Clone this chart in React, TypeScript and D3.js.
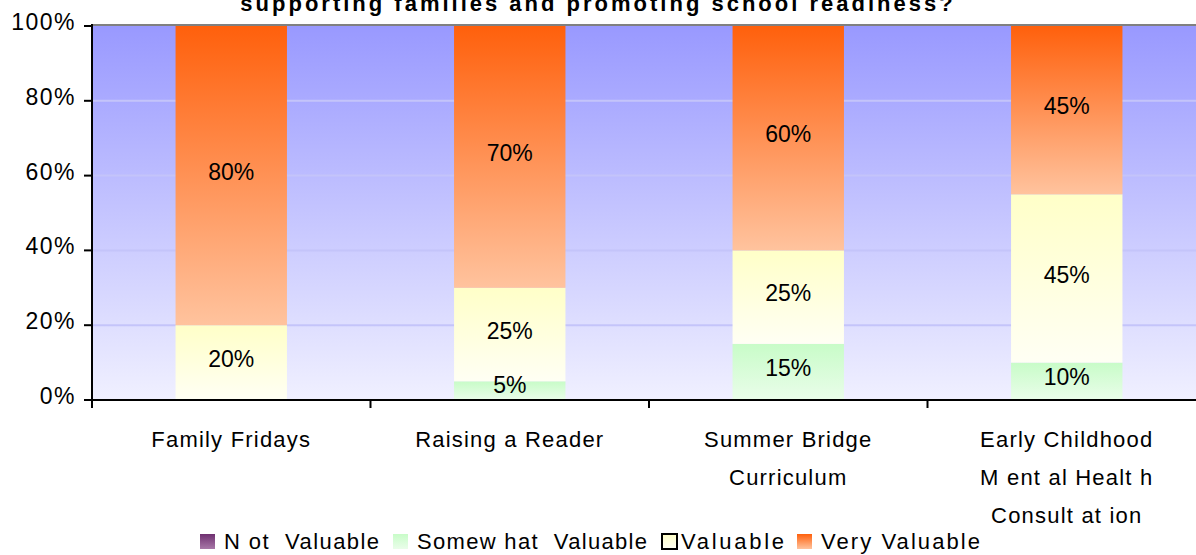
import React, { useRef, useEffect } from 'react';
import * as d3 from 'd3';

// Chart data
const categories = [
  ['Family Fridays'],
  ['Raising a Reader'],
  ['Summer Bridge', 'Curriculum'],
  ['Early Childhood', 'M ent al Healt h', 'Consult at ion'],
];
const seriesNames = ['Not Valuable', 'Somewhat Valuable', 'Valuable', 'Very Valuable'];
const notValuable = [0, 0, 0, 0];
const somewhatValuable = [0, 5, 15, 10];
const valuable = [20, 25, 25, 45];
const veryValuable = [80, 70, 60, 45];
const yTicks = [0, 20, 40, 60, 80, 100];
const title = 'supporting families and promoting school readiness?';

const seriesValues = [notValuable, somewhatValuable, valuable, veryValuable];
const gradients = [
  ['#6f3070', '#a878a8'],
  ['#c8fcc8', '#eafdea'],
  ['#ffffc8', '#fffff4'],
  ['#ff600c', '#ffc39e'],
];

const App = () => {
  const chartRef = useRef<SVGSVGElement | null>(null);

  useEffect(() => {
    const svg = d3.select(chartRef.current);
    svg.selectAll('*').remove();

    const width = 1196;
    const left = 92;
    const right = 1206; // plot area runs past the window edge
    const top = 26;
    const bottom = 400;
    const font = 'Liberation Sans, Arial, sans-serif';

    const x = d3.scaleBand()
      .domain(categories.map((_, i) => String(i)))
      .range([left, right])
      .paddingInner(0.6)
      .paddingOuter(0.3);
    const y = d3.scaleLinear().domain([0, 100]).range([bottom, top]);

    const defs = svg.append('defs');
    const bg = defs.append('linearGradient')
      .attr('id', 'bg').attr('x1', 0).attr('y1', 0).attr('x2', 0).attr('y2', 1);
    bg.append('stop').attr('offset', '0%').attr('stop-color', '#9999ff');
    bg.append('stop').attr('offset', '100%').attr('stop-color', '#f0f0ff');
    gradients.forEach((g, i) => {
      const lg = defs.append('linearGradient')
        .attr('id', `g${i}`).attr('x1', 0).attr('y1', 0).attr('x2', 0).attr('y2', 1);
      lg.append('stop').attr('offset', '0%').attr('stop-color', g[0]);
      lg.append('stop').attr('offset', '100%').attr('stop-color', g[1]);
    });

    // Plot background
    svg.append('rect')
      .attr('x', left).attr('y', top)
      .attr('width', right - left).attr('height', bottom - top)
      .attr('fill', 'url(#bg)');

    // Gridlines
    svg.append('g')
      .selectAll('line')
      .data(yTicks.filter(t => t > 0 && t < 100))
      .enter()
      .append('line')
      .attr('x1', left).attr('x2', right)
      .attr('y1', d => y(d)).attr('y2', d => y(d))
      .attr('stroke', '#c4c4fa')
      .attr('stroke-width', 2);

    // Top border
    svg.append('line')
      .attr('x1', left).attr('x2', right)
      .attr('y1', top - 1).attr('y2', top - 1)
      .attr('stroke', '#808080').attr('stroke-width', 2);

    // Stacked bars
    const rows = categories.map((_, i) => {
      const r: any = { key: String(i) };
      seriesNames.forEach((s, j) => { r[s] = seriesValues[j][i]; });
      return r;
    });
    const layers = d3.stack().keys(seriesNames)(rows);

    layers.forEach((layer, j) => {
      svg.append('g')
        .selectAll('rect')
        .data(layer.filter(d => d[1] - d[0] > 0))
        .enter()
        .append('rect')
        .attr('x', d => x(d.data.key) as number)
        .attr('width', x.bandwidth())
        .attr('y', d => y(d[1]))
        .attr('height', d => y(d[0]) - y(d[1]))
        .attr('fill', `url(#g${j})`);
    });

    // Data labels on top of every segment
    layers.forEach(layer => {
      svg.append('g')
        .selectAll('text')
        .data(layer.filter(d => d[1] - d[0] > 0))
        .enter()
        .append('text')
        .attr('x', d => (x(d.data.key) as number) + x.bandwidth() / 2)
        .attr('y', d => (y(d[0]) + y(d[1])) / 2 - (d[1] - d[0] < 8 ? 6 : 4))
        .attr('dy', '0.35em')
        .attr('text-anchor', 'middle')
        .attr('font-family', font)
        .attr('font-size', 23)
        .attr('fill', '#000')
        .text(d => `${d[1] - d[0]}%`);
    });

    // Y axis
    const yAxis = svg.append('g');
    yAxis.append('line')
      .attr('x1', left).attr('x2', left)
      .attr('y1', top - 2).attr('y2', bottom + 1)
      .attr('stroke', '#000').attr('stroke-width', 2);
    yAxis.selectAll('.tick')
      .data(yTicks)
      .enter()
      .append('line')
      .attr('x1', left - 8).attr('x2', left)
      .attr('y1', d => y(d)).attr('y2', d => y(d))
      .attr('stroke', '#000').attr('stroke-width', 2);
    yAxis.selectAll('text')
      .data(yTicks)
      .enter()
      .append('text')
      .attr('x', left - 16)
      .attr('y', d => y(d) - 4)
      .attr('dy', '0.35em')
      .attr('text-anchor', 'end')
      .attr('font-family', font)
      .attr('font-size', 23)
      .attr('letter-spacing', 1.5)
      .text(d => `${d}%`);

    // X axis
    const xAxis = svg.append('g');
    xAxis.append('line')
      .attr('x1', left - 8).attr('x2', right)
      .attr('y1', bottom).attr('y2', bottom)
      .attr('stroke', '#000').attr('stroke-width', 2);
    const step = (right - left) / categories.length;
    xAxis.selectAll('.tick')
      .data(d3.range(categories.length + 1))
      .enter()
      .append('line')
      .attr('x1', i => left + i * step).attr('x2', i => left + i * step)
      .attr('y1', bottom).attr('y2', bottom + 8)
      .attr('stroke', '#000').attr('stroke-width', 2);
    categories.forEach((lines, i) => {
      const t = xAxis.append('text')
        .attr('text-anchor', 'middle')
        .attr('font-family', font)
        .attr('font-size', 22)
        .attr('letter-spacing', 1.2);
      lines.forEach((line, k) => {
        t.append('tspan')
          .attr('x', (x(String(i)) as number) + x.bandwidth() / 2)
          .attr('y', 447 + k * 38)
          .text(line);
      });
    });

    // Title (first line falls outside the window)
    svg.append('text')
      .attr('x', width / 2)
      .attr('y', 11)
      .attr('text-anchor', 'middle')
      .attr('font-family', font)
      .attr('font-size', 22)
      .attr('font-weight', 'bold')
      .attr('letter-spacing', 3)
      .text(title);

    // Legend
    const legendX = [200, 393, 662, 797];
    const legendWidths = [155, 230, 103, 159];
    const legendLabels = ['N ot  Valuable', 'Somew hat  Valuable', 'Valuable', 'Very Valuable'];
    const legend = svg.append('g');
    seriesNames.forEach((s, i) => {
      legend.append('rect')
        .attr('x', legendX[i]).attr('y', 534)
        .attr('width', 15).attr('height', 15)
        .attr('fill', `url(#g${i})`)
        .attr('stroke', i === 2 ? '#000' : 'none')
        .attr('stroke-width', 2);
      legend.append('text')
        .attr('x', legendX[i] + (i === 2 ? 19 : 24))
        .attr('y', 549)
        .attr('font-family', font)
        .attr('font-size', 22)
        .attr('textLength', legendWidths[i])
        .attr('lengthAdjust', 'spacing')
        .style('white-space', 'pre')
        .text(legendLabels[i]);
    });

    return () => {
      svg.selectAll('*').remove();
    };
  }, []);

  return (
    <div style={{ position: 'fixed', left: 0, top: 0, width: 1196, height: 555, background: '#fff' }}>
      <svg ref={chartRef} width={1196} height={555} style={{ display: 'block' }} />
    </div>
  );
};

export default App;
